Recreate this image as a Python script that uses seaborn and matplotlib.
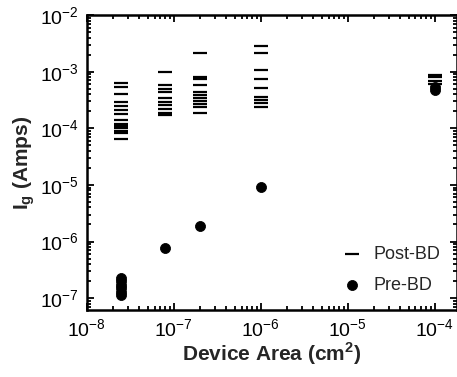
import numpy as np
import pandas as pd
import matplotlib
matplotlib.use("Agg")
import matplotlib.pyplot as plt
import seaborn as sns
from matplotlib.ticker import LogLocator

# Post-BD gate current (A) per device area (cm^2)
post_area = ([2.5e-8] * 14 + [8e-8] * 10 + [2e-7] * 11 + [1e-6] * 9 + [1e-4] * 4)
post_ig = [6.3e-4, 5.4e-4, 4.0e-4, 2.9e-4, 2.5e-4, 2.1e-4, 1.8e-4, 1.4e-4,
           1.2e-4, 1.1e-4, 1.0e-4, 9.0e-5, 8.3e-5, 6.5e-5,
           9.8e-4, 5.8e-4, 4.9e-4, 4.4e-4, 3.4e-4, 2.9e-4, 2.6e-4, 2.2e-4, 1.9e-4, 1.7e-4,
           2.1e-3, 7.9e-4, 7.4e-4, 5.8e-4, 4.3e-4, 3.8e-4, 3.4e-4, 3.0e-4, 2.7e-4, 2.4e-4, 1.9e-4,
           2.9e-3, 2.1e-3, 1.07e-3, 7.4e-4, 5.1e-4, 3.6e-4, 3.2e-4, 2.8e-4, 2.4e-4,
           8.7e-4, 8.0e-4, 6.8e-4, 6.0e-4]

# Pre-BD gate current
pre_area = [2.5e-8] * 6 + [8e-8, 2e-7, 1e-6, 1e-4, 1e-4]
pre_ig = [2.3e-7, 2.0e-7, 1.7e-7, 1.5e-7, 1.3e-7, 1.15e-7,
          7.6e-7, 1.9e-6, 9.3e-6, 4.7e-4, 5.3e-4]

post = pd.DataFrame({"area": post_area, "ig": post_ig})
pre = pd.DataFrame({"area": pre_area, "ig": pre_ig})

sns.set_style("ticks")
plt.rcParams['font.family'] = ['Liberation Sans', 'DejaVu Sans']
plt.rcParams['mathtext.fontset'] = 'custom'
plt.rcParams['mathtext.rm'] = 'Liberation Sans'
plt.rcParams['mathtext.bf'] = 'Liberation Sans:bold'
plt.rcParams['axes.unicode_minus'] = False

fig = plt.figure(figsize=(4.57, 3.77), dpi=100)
ax = fig.add_axes([0.19, 0.178, 0.81, 0.782])

sns.scatterplot(data=post, x="area", y="ig", marker="_", s=100, color="black",
                linewidth=1.6, label="Post-BD", ax=ax)
sns.scatterplot(data=pre, x="area", y="ig", marker="o", s=52, color="black",
                edgecolor="black", label="Pre-BD", ax=ax)

ax.set_xscale("log")
ax.set_yscale("log")
ax.set_xlim(1e-8, 1.8e-4)
ax.set_ylim(6.2e-8, 1e-2)

ax.xaxis.set_major_locator(LogLocator(base=10, numticks=10))
ax.yaxis.set_major_locator(LogLocator(base=10, numticks=10))
ax.xaxis.set_minor_locator(LogLocator(base=10, subs=np.arange(2, 10), numticks=20))
ax.yaxis.set_minor_locator(LogLocator(base=10, subs=np.arange(2, 10), numticks=20))

ax.tick_params(which="both", direction="in", top=True, right=True, width=1.3,
               color="black", labelcolor="black")
ax.tick_params(which="major", length=5, labelsize=14, pad=6)
ax.tick_params(which="minor", length=3)
for sp in ax.spines.values():
    sp.set_linewidth(1.8)
    sp.set_color("black")

ax.set_xlabel(r"Device Area (cm$^\mathbf{2}$)", fontsize=15, fontweight="bold", labelpad=0)
ax.set_ylabel(r"$\mathbf{I_g}$ (Amps)", fontsize=15, fontweight="bold", labelpad=2)

ax.legend(loc="lower right", frameon=False, fontsize=13, handletextpad=0.6,
          bbox_to_anchor=(1.0, 0.0), labelspacing=0.75, handlelength=1.2)

fig.savefig("out.png", dpi=100)
